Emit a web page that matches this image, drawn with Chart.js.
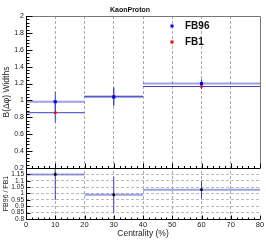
<!DOCTYPE html>
<html>
<head>
<meta charset="utf-8">
<script src="https://cdn.jsdelivr.net/npm/chart.js@4.4.1/dist/chart.umd.min.js"></script>
<style>
  html, body { margin: 0; padding: 0; background: #fff; }
  #wrap { width: 266px; height: 241px; }
</style>
</head>
<body>
<div id="wrap"><canvas id="chart" width="266" height="241"></canvas></div>
<script>
// ---- data ----
const binLo = [0, 20, 40]
const binHi = [20, 40, 80]
const centers = [10, 30, 60]
const fb96 = [0.985, 1.04, 1.2]
const fb96Err = [0.115, 0.105, 0.05]
const fb1 = [0.855, 1.05, 1.165]
const fb1Err = [0.115, 0.105, 0.03]
const ratio = [1.15, 0.99, 1.03]
const ratioErr = [0.2, 0.14, 0.07]
const xTicks = [0, 10, 20, 30, 40, 50, 60, 70, 80]
const topTicks = [0.2, 0.4, 0.6, 0.8, 1, 1.2, 1.4, 1.6, 1.8, 2]
const ratioTicks = [0.8, 0.85, 0.9, 0.95, 1, 1.05, 1.1, 1.15, 1.2]

Chart.defaults.font.family = '"Liberation Sans", Arial, sans-serif'
Chart.defaults.color = '#222'

const FONT = '"Liberation Sans", Arial, sans-serif'
const lineBlue = '#4040b8'
const bandBlue = 'rgba(80,80,210,0.55)'

// horizontal bars (bin widths) and vertical error bars, split by null gaps
function hSegs(vals) {
  const pts = []
  vals.forEach((v, i) => { pts.push({ x: binLo[i], y: v }, { x: binHi[i], y: v }, { x: binHi[i], y: null }) })
  return pts
}
function vSegs(vals, errs) {
  const pts = []
  vals.forEach((v, i) => { pts.push({ x: centers[i], y: v - errs[i] }, { x: centers[i], y: v + errs[i] }, { x: centers[i], y: null }) })
  return pts
}
function pts(vals) { return vals.map((v, i) => ({ x: centers[i], y: v })) }

const fmt = v => String(+Number(v).toFixed(2))

function seg(data, color, width, axis, order) {
  return { data, yAxisID: axis, showLine: true, spanGaps: false, borderColor: color, borderWidth: width, pointRadius: 0, order }
}
function marks(data, color, size, axis, order) {
  return { data, yAxisID: axis, showLine: false, pointStyle: 'rect', pointRadius: size, backgroundColor: color, borderColor: color, borderWidth: 0, order }
}

// ROOT-like frame, inward ticks, panel clipping and legend
const rootDeco = {
  id: 'rootDeco',
  beforeDatasetDraw(chart, args) {
    const s = chart.scales[args.meta.yAxisID]
    const a = chart.chartArea
    chart.ctx.save()
    chart.ctx.beginPath()
    chart.ctx.rect(a.left, s.top, a.right - a.left, s.bottom - s.top)
    chart.ctx.clip()
  },
  afterDatasetDraw(chart) { chart.ctx.restore() },
  afterDraw(chart) {
    const { ctx, chartArea: a, scales: { x, y, y2 } } = chart
    ctx.save()
    ctx.lineWidth = 1
    // top panel frame
    ctx.strokeStyle = '#777'
    ctx.beginPath()
    ctx.moveTo(a.left, Math.round(y.top) + 0.5)
    ctx.lineTo(Math.round(a.right) + 0.5, Math.round(y.top) + 0.5)
    ctx.lineTo(Math.round(a.right) + 0.5, Math.round(y.bottom))
    ctx.stroke()
    // axes
    ctx.strokeStyle = '#000'
    const L = Math.round(a.left) + 0.5
    const mid = Math.round(y.bottom) + 0.5
    const bot = Math.round(y2.bottom) + 0.5
    ctx.beginPath()
    ctx.moveTo(L, y.top); ctx.lineTo(L, y2.bottom)
    ctx.moveTo(a.left, mid); ctx.lineTo(a.right, mid)
    ctx.moveTo(a.left, bot); ctx.lineTo(a.right, bot)
    ctx.stroke()
    ctx.beginPath()
    // y ticks top panel (major 0.2, minor 0.04)
    for (let v = 0.2; v <= 2.0001; v += 0.04) {
      const p = Math.round(y.getPixelForValue(v)) + 0.5
      const major = Math.abs(v * 5 - Math.round(v * 5)) < 1e-6
      ctx.moveTo(L, p); ctx.lineTo(L + (major ? 6 : 3), p)
    }
    // ratio y ticks
    for (let v = 0.8; v <= 1.2001; v += 0.05) {
      const p = Math.round(y2.getPixelForValue(v)) + 0.5
      ctx.moveTo(L, p); ctx.lineTo(L + 4, p)
    }
    // x ticks on both panels (major 10, minor 2)
    for (let v = 0; v <= 80; v += 2) {
      const p = Math.round(x.getPixelForValue(v)) + 0.5
      const major = v % 10 === 0
      ctx.moveTo(p, mid); ctx.lineTo(p, mid - (major ? 5 : 2.5))
      ctx.moveTo(p, bot); ctx.lineTo(p, bot - (major ? 4 : 2))
    }
    ctx.stroke()
    // legend
    ctx.fillStyle = '#0000ff'
    ctx.fillRect(170.5, 24.5, 3, 3)
    ctx.fillStyle = '#ff0000'
    ctx.fillRect(170.5, 40.5, 3, 3)
    ctx.fillStyle = '#111'
    ctx.font = 'bold 10px ' + FONT
    ctx.textBaseline = 'middle'
    ctx.fillText('FB96', 185, 26.5)
    ctx.fillText('FB1', 185, 42.5)
    ctx.restore()
  }
}

new Chart(document.getElementById('chart'), {
  type: 'scatter',
  data: {
    datasets: [
      marks(pts(fb96), '#0000ff', 2.2, 'y', 0),
      marks(pts(fb1), '#ff0000', 1.8, 'y', 1),
      marks(pts(ratio), '#000000', 1.8, 'y2', 0),
      seg(vSegs(fb96, fb96Err), lineBlue, 1, 'y', 3),
      seg(vSegs(fb1, fb1Err), lineBlue, 1, 'y', 3),
      seg(vSegs(ratio, ratioErr), lineBlue, 1, 'y2', 3),
      seg(hSegs(fb1), lineBlue, 1, 'y', 4),
      seg(hSegs(fb96), bandBlue, 2, 'y', 5),
      seg(hSegs(ratio), bandBlue, 2, 'y2', 5)
    ]
  },
  options: {
    responsive: false,
    animation: false,
    layout: { padding: { left: 0, right: 6, top: 0, bottom: 0 } },
    plugins: {
      legend: { display: false },
      tooltip: { enabled: false },
      title: {
        display: true,
        text: 'KaonProton',
        font: { size: 7, weight: 'bold' },
        color: '#111',
        padding: { top: 6, bottom: 1.6 }
      }
    },
    scales: {
      x: {
        type: 'linear', min: 0, max: 80,
        afterBuildTicks: s => { s.ticks = xTicks.map(v => ({ value: v })) },
        afterFit: s => { s.height = 22 },
        grid: {
          drawTicks: false,
          color: c => (c.tick && (c.tick.value === 0 || c.tick.value === 80)) ? 'rgba(0,0,0,0)' : '#aaa',
          lineWidth: 1
        },
        border: { display: false, dash: [3, 2] },
        ticks: { font: { size: 7.5 }, padding: 1, maxRotation: 0, autoSkip: false },
        title: { display: true, text: 'Centrality (%)', font: { size: 8.5 }, padding: { top: 0, bottom: 2 } }
      },
      y2: {
        type: 'linear', min: 0.8, max: 1.2, position: 'left',
        stack: 'panels', stackWeight: 51,
        afterBuildTicks: s => { s.ticks = ratioTicks.map(v => ({ value: v })) },
        afterFit: s => { s.width = 26 },
        grid: {
          drawTicks: false,
          color: c => (c.tick && (c.tick.value <= 0.8 || c.tick.value >= 1.2)) ? 'rgba(0,0,0,0)' : '#bbb'
        },
        border: { display: false, dash: [3, 2] },
        ticks: { font: { size: 6.5 }, padding: 2, autoSkip: false, callback: v => (v >= 1.2 ? '' : fmt(v)) },
        title: { display: true, text: 'FB96 / FB1', font: { size: 7 }, padding: { top: 2, bottom: 0 } }
      },
      y: {
        type: 'linear', min: 0.2, max: 2, position: 'left',
        stack: 'panels', stackWeight: 152,
        afterBuildTicks: s => { s.ticks = topTicks.map(v => ({ value: v })) },
        afterFit: s => { s.width = 26 },
        grid: { display: false, drawTicks: false },
        border: { display: false },
        ticks: { font: { size: 7 }, padding: 2, autoSkip: false, callback: v => fmt(v) },
        title: { display: true, text: 'B(Δφ) Widths', font: { size: 8.5 }, padding: { top: 2, bottom: 0 } }
      }
    }
  },
  plugins: [rootDeco]
})
</script>
</body>
</html>
